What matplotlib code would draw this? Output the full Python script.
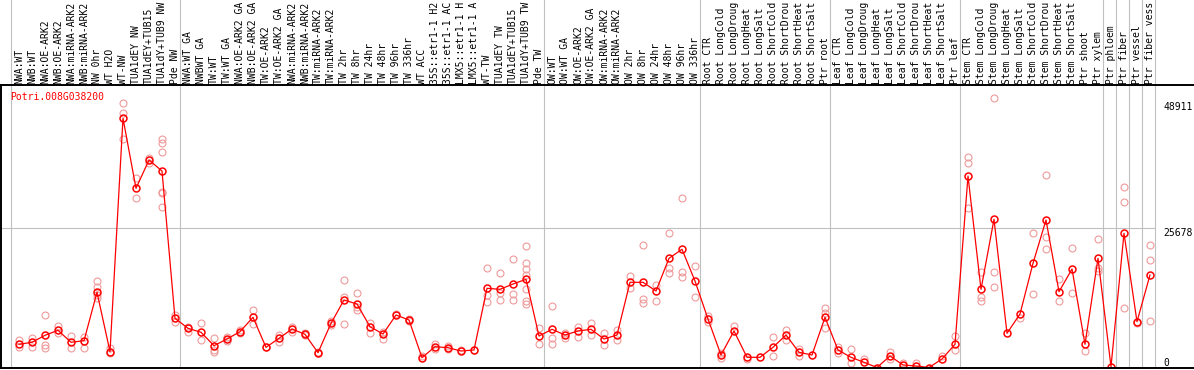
import matplotlib
matplotlib.use("Agg")
import matplotlib.pyplot as plt
from matplotlib.lines import Line2D

gene = "Potri.008G038200"

labels = [
    "NWA:WT", "NWB:WT", "NWA:OE-ARK2", "NWB:OE-ARK2", "NWA:miRNA-ARK2", "NWB:miRNA-ARK2",
    "NW 0hr", "WT H2O", "WT-NW", "TUA1dEY NW", "TUA1dEY+TUB15 NW", "TUA1dY+TUB9 NW", "Pde NW",
    "NWA:WT GA", "NWBWT GA", "TW:WT", "TW:WT GA", "NWA:OE-ARK2 GA", "NWB:OE-ARK2 GA",
    "TW:OE-ARK2", "TW:OE-ARK2 GA", "NWA:miRNA-ARK2 GA", "NWB:miRNA-ARK2 GA", "TW:miRNA-ARK2",
    "TW:miRNA-ARK2 GA", "TW 2hr", "TW 8hr", "TW 24hr", "TW 48hr", "TW 96hr", "TW 336hr", "WT ACC",
    "35S::etr1-1 H2O", "35S::etr1-1 ACC", "LMX5::etr1-1 H2O", "LMX5::etr1-1 ACC", "WT-TW",
    "TUA1dEY TW", "TUA1dEY+TUB15 TW", "TUA1dY+TUB9 TW", "Pde TW",
    "OW:WT", "OW:WT GA", "OW:OE-ARK2", "OW:OE-ARK2 GA", "OW:miRNA-ARK2", "OW:miRNA-ARK2 GA",
    "OW 2hr", "OW 8hr", "OW 24hr", "OW 48hr", "OW 96hr", "OW 336hr",
    "Root CTR", "Root LongCold", "Root LongDrought", "Root LongHeat", "Root LongSalt",
    "Root ShortCold", "Root ShortDrought", "Root ShortHeat", "Root ShortSalt", "Ptr root",
    "Leaf CTR", "Leaf LongCold", "Leaf LongDrought", "Leaf LongHeat", "Leaf LongSalt",
    "Leaf ShortCold", "Leaf ShortDrought", "Leaf ShortHeat", "Leaf ShortSalt", "Ptr leaf",
    "Stem CTR", "Stem LongCold", "Stem LongDrought", "Stem LongHeat", "Stem LongSalt",
    "Stem ShortCold", "Stem ShortDrought", "Stem ShortHeat", "Stem ShortSalt", "Ptr shoot",
    "Ptr xylem", "Ptr phloem", "Ptr fiber", "Ptr vessel", "Ptr fiber vessel",
]

means = [
    4270, 4638, 5927, 6847, 4638, 4933, 13841, 2908, 45868, 32984, 38192, 36168, 9056,
    7215, 6479, 4012, 5246, 6589, 9240, 3718, 5375, 7086, 6111, 2724, 8135, 12424, 11688,
    7510, 6166, 9663, 8743, 1804, 3828, 3644, 3037, 3221, 14578, 14393, 15369, 16234, 5798,
    7031, 5982, 6718, 7031, 5246, 5982, 15682, 15682, 14081, 20099, 21756, 15921,
    8927, 2301, 6718, 1877, 1877, 3718, 5982, 2798, 2301, 9240,
    3221, 1877, 957, 0, 2117, 460, 276, 0, 1565, 4270,
    35247, 14393, 27278, 6295, 9847, 19179, 27149, 13952, 18130, 4270, 20099,
    147, 24701, 8430, 17026,
]

reps = [
    [5062, 3828], [5485, 3828], [9663, 4141, 3534], [7638, 6295], [5853, 3534], [5669, 3534],
    [15976, 14872, 12737, 13344], [3534, 2669], [48629, 46899, 42002], [34824, 31143],
    [37585, 38561], [42002, 41266, 39610, 32358, 32118, 29597], [9663, 8430],
    [6589, 7510], [8135, 5062], [5375, 3221, 2908], [5559, 4933], [6902, 6295],
    [10583, 7951], [3828], [5982, 4749], [7510, 6479], [6300, 5900], [2900, 2600],
    [8614, 7823], [16105, 13031, 8007], [13657, 10583, 11080], [8246, 6295], [6589, 5190],
    [9847], [8900, 8600], [2117], [4325, 3405], [3957, 3350], [3221], [3300],
    [18259, 13344, 12111], [17338, 13657, 12424], [19915, 13528, 12424],
    [22363, 19179, 18075, 17026, 14393, 12240, 11688], [7215, 4270],
    [11320, 5375, 4270], [6405, 5375], [7510, 5669], [8135, 5982], [6295, 4141], [6902, 5062],
    [16841, 14578], [22547, 12553, 11817], [15185, 12240], [24701, 18259, 17449],
    [31143, 17633, 16602], [18682, 12921],
    [9479, 8430], [2614, 1693], [7638], [1509], [], [5669, 2172], [6902, 5062], [3350, 2117],
    [], [10896, 10086, 7215],
    [3828, 2724], [3350, 883], [1509], [], [2798, 1509], [883], [773], [], [2117], [5798, 3221],
    [38689, 37585, 29302], [17633, 13031, 12295], [49549, 17633, 14761], [], [9056],
    [24701, 13528], [35432, 24075, 21756], [16289, 12240], [21940, 13657], [6295, 3092],
    [23596, 18259, 17817],
    [], [33168, 30407, 10896], [8246], [22547, 19786, 8559],
]

group_ends = [0, 13, 41, 53, 63, 73, 84, 85, 86, 87, 88]
ytick_vals = [48911, 25678, 0]
grid_val = 25678
max_chars = 14  # header only has room for this many characters

W, H = 1194, 370
top_px, bot_px = 85, 368
x0_px, step_px = 19, 13

fig = plt.figure(figsize=(W / 100, H / 100), dpi=100)
ax = fig.add_axes([0, (H - bot_px) / H, 1, (bot_px - top_px) / H])
ax.set_xlim(1 - x0_px / step_px, 1 + (W - x0_px) / step_px)
ax.set_ylim(-92, 52000)
ax.axis("off")

mono = "DejaVu Sans Mono"
fs = 7.0
xs = list(range(1, len(means) + 1))

# group separators run through the label header too
head = 1 + top_px / (bot_px - top_px)
for g in group_ends:
    ax.axvline(g + 0.4, ymin=0, ymax=head, color="#c0c0c0", lw=0.8, clip_on=False, zorder=1)
ax.hlines(grid_val, 1 - 18 / step_px, 88.4, color="#c0c0c0", lw=0.8, zorder=1)

# replicate points
for x, r in zip(xs, reps):
    if r:
        ax.plot([x] * len(r), r, "o", ms=5, mfc="none", mec="#ee9a9a", mew=0.8, zorder=2)

ax.plot(xs, means, "-", color="#ff0000", lw=0.9, zorder=3)
ax.plot(xs, means, "o", ms=5, mfc="none", mec="#ff0000", mew=1.1, zorder=4)

# column labels, vertical, sitting on the header line
tr = ax.get_xaxis_transform()
for x, lab in zip(xs, labels):
    ax.text(x, 1 + 1.5 / (bot_px - top_px), lab[:max_chars].rstrip(), transform=tr,
            rotation=90, ha="center", va="bottom", family=mono, fontsize=fs, clip_on=False)

# value labels on the right
for v in ytick_vals:
    ax.text(89.0, v, str(v), ha="left", va="top" if v > 0 else "bottom",
            family=mono, fontsize=fs, color="black")

fig.text(10 / W, 1 - 97 / H, gene, color="#ff0000", family=mono, fontsize=fs,
         ha="left", va="center")

# black frame lines
for ypx in (top_px, bot_px):
    fig.add_artist(Line2D([0, 1], [1 - ypx / H] * 2, color="black", lw=1.4))
fig.add_artist(Line2D([1 / W] * 2, [1 - top_px / H, 1 - bot_px / H], color="black", lw=1.4))

fig.savefig("out.png", dpi=100)
